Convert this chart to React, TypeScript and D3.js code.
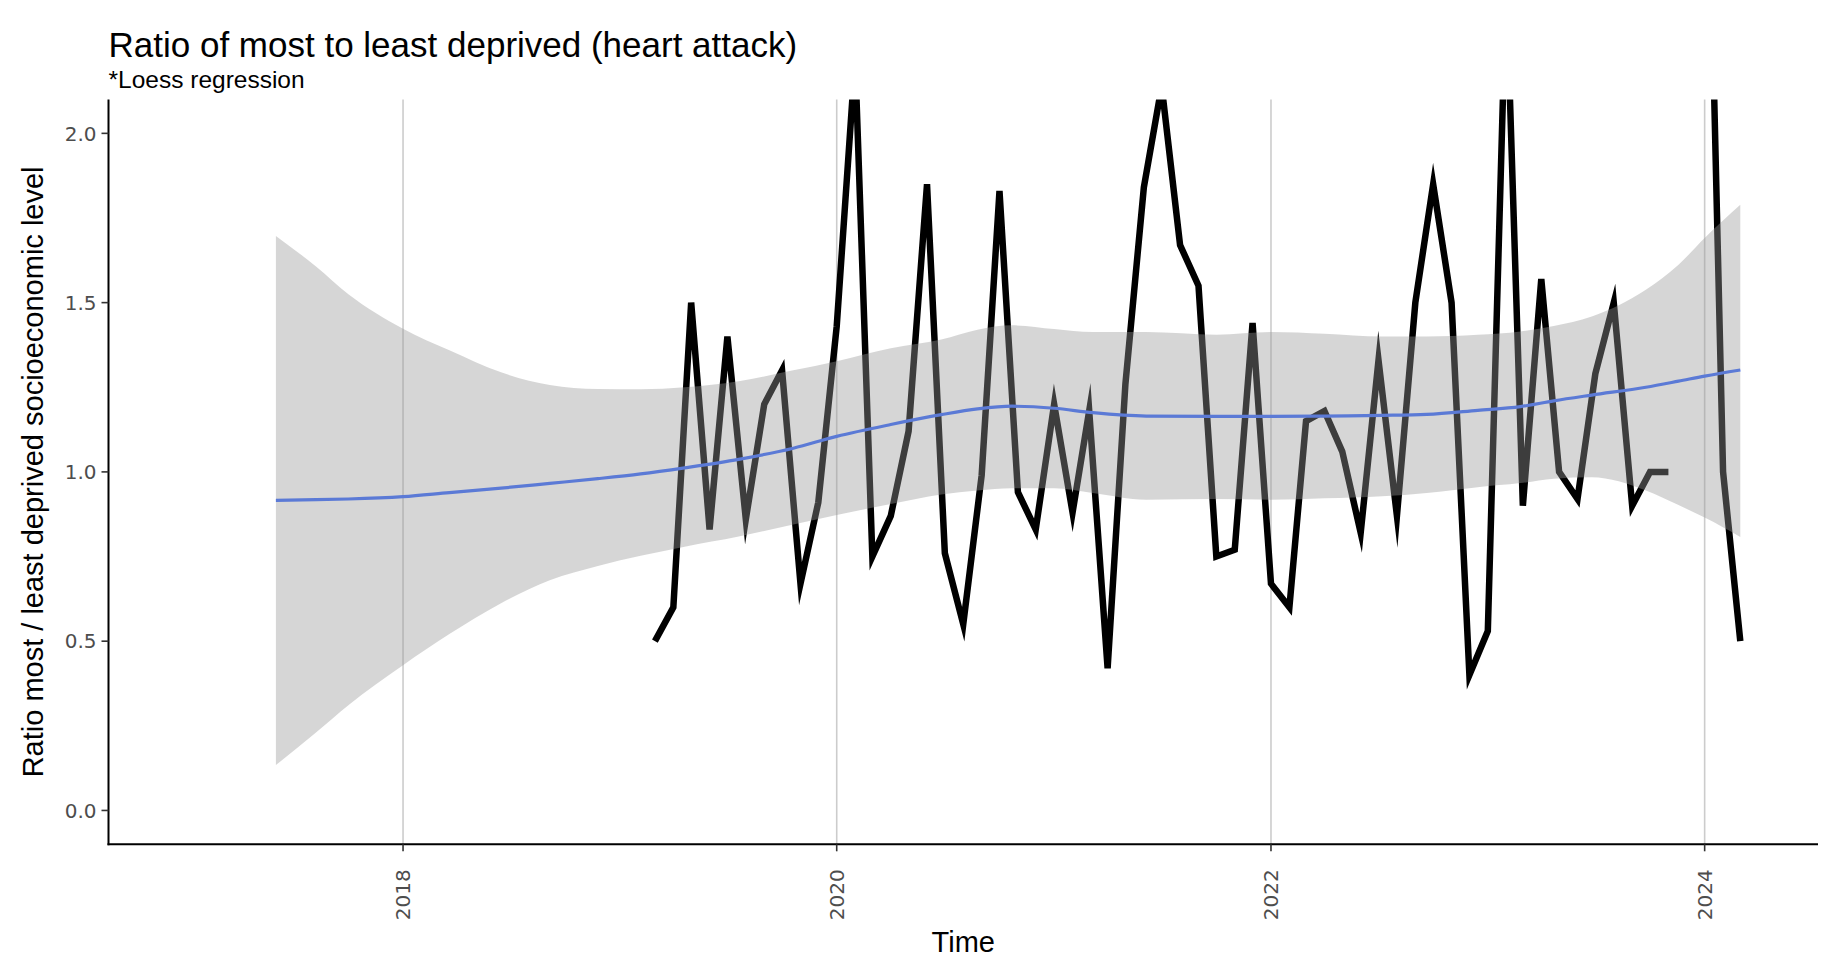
import React from 'react';
import * as d3 from 'd3';

// ---------- data ----------
const dataStart = '2017-01-01';
const dataEnd = '2024-03-01';

const ratioMonths = [
  '2019-03', '2019-04', '2019-05', '2019-06', '2019-07', '2019-08', '2019-09', '2019-10', '2019-11', '2019-12',
  '2020-01', '2020-02', '2020-03', '2020-04', '2020-05', '2020-06', '2020-07', '2020-08', '2020-09', '2020-10', '2020-11', '2020-12',
  '2021-01', '2021-02', '2021-03', '2021-04', '2021-05', '2021-06', '2021-07', '2021-08', '2021-09', '2021-10', '2021-11', '2021-12',
  '2022-01', '2022-02', '2022-03', '2022-04', '2022-05', '2022-06', '2022-07', '2022-08', '2022-09', '2022-10', '2022-11', '2022-12',
  '2023-01', '2023-02', '2023-03', '2023-04', '2023-05', '2023-06', '2023-07', '2023-08', '2023-09', '2023-10', '2023-11', '2023-12',
  '2024-01', '2024-02', '2024-03',
];
const ratioValues: (number | null)[] = [
  0.50, 0.60, 1.50, 0.83, 1.40, 0.86, 1.20, 1.30, 0.67, 0.91,
  1.43, 2.22, 0.75, 0.87, 1.12, 1.85, 0.76, 0.55, 0.99, 1.83, 0.94, 0.83,
  1.20, 0.88, 1.18, 0.42, 1.26, 1.84, 2.14, 1.67, 1.55, 0.75, 0.77, 1.44,
  0.67, 0.60, 1.15, 1.18, 1.06, 0.82, 1.33, 0.87, 1.50, 1.85, 1.50, 0.40,
  0.53, 2.45, 0.90, 1.57, 1.00, 0.92, 1.29, 1.50, 0.90, 1.00, 1.00, null,
  3.30, 1.00, 0.50,
];

const loessDates = [
  '2017-06-01', '2017-08-08', '2017-10-01', '2018-01-01', '2018-03-20', '2018-06-15', '2018-09-05', '2018-11-25',
  '2019-02-05', '2019-04-20', '2019-07-20', '2019-10-20', '2020-01-01', '2020-04-01', '2020-06-25', '2020-08-25',
  '2020-10-22', '2021-01-01', '2021-03-07', '2021-06-05', '2021-10-01', '2022-01-01', '2022-04-01', '2022-07-07',
  '2022-09-20', '2022-12-15', '2023-02-25', '2023-04-22', '2023-06-25', '2023-09-24', '2023-11-18', '2024-01-01',
  '2024-03-01',
];
const loessFit = [
  0.916, 0.918, 0.920, 0.927, 0.939, 0.952, 0.966, 0.980,
  0.994, 1.012, 1.037, 1.070, 1.105, 1.140, 1.169, 1.186,
  1.194, 1.188, 1.175, 1.165, 1.164, 1.164, 1.165, 1.167,
  1.170, 1.182, 1.193, 1.210, 1.227, 1.250, 1.268, 1.283,
  1.301,
];
const loessLower = [
  0.134, 0.231, 0.311, 0.429, 0.521, 0.612, 0.680, 0.722,
  0.752, 0.779, 0.809, 0.845, 0.873, 0.905, 0.933, 0.945,
  0.952, 0.952, 0.938, 0.918, 0.920, 0.918, 0.922, 0.928,
  0.938, 0.955, 0.967, 0.980, 0.984, 0.945, 0.902, 0.865,
  0.808,
];
const loessUpper = [
  1.697, 1.606, 1.525, 1.423, 1.359, 1.294, 1.257, 1.245,
  1.244, 1.250, 1.268, 1.300, 1.327, 1.365, 1.391, 1.420,
  1.433, 1.422, 1.413, 1.413, 1.405, 1.413, 1.408, 1.400,
  1.400, 1.405, 1.415, 1.431, 1.459, 1.538, 1.612, 1.691,
  1.789,
];

const yTicks = [0, 0.5, 1.0, 1.5, 2.0];
const yLimits = [0, 2];

const titleText = 'Ratio of most to least deprived (heart attack)';
const subtitleText = '*Loess regression';
const xTitle = 'Time';
const yTitle = 'Ratio most / least deprived socioeconomic level';

// ---------- layout ----------
const W = 1826;
const H = 966;
const P = { left: 108.5, right: 1818, top: 99.5, bottom: 844.3 };
const TICK_FONT = '"DejaVu Sans", sans-serif';
const TEXT_FONT = '"Liberation Sans", Arial, sans-serif';

export default function App() {
  const parseMonth = d3.timeParse('%Y-%m');
  const parseDay = d3.timeParse('%Y-%m-%d');

  const d0 = parseDay(dataStart) as Date;
  const d1 = parseDay(dataEnd) as Date;
  const span = d1.getTime() - d0.getTime();
  const x = d3
    .scaleTime()
    .domain([new Date(d0.getTime() - span * 0.05), new Date(d1.getTime() + span * 0.05)])
    .range([P.left, P.right]);

  const ySpan = yLimits[1] - yLimits[0];
  const y = d3
    .scaleLinear()
    .domain([yLimits[0] - ySpan * 0.05, yLimits[1] + ySpan * 0.05])
    .range([P.bottom, P.top]);

  const ratio = ratioMonths.map((m, i) => ({ date: parseMonth(m) as Date, v: ratioValues[i] }));
  const loess = loessDates.map((d, i) => ({
    date: parseDay(d) as Date,
    fit: loessFit[i],
    lo: loessLower[i],
    hi: loessUpper[i],
  }));

  const ratioLine = d3
    .line<{ date: Date; v: number | null }>()
    .defined((d) => d.v != null)
    .x((d) => x(d.date))
    .y((d) => y(d.v as number));

  const fitLine = d3
    .line<(typeof loess)[number]>()
    .curve(d3.curveMonotoneX)
    .x((d) => x(d.date))
    .y((d) => y(d.fit));

  const band = d3
    .area<(typeof loess)[number]>()
    .curve(d3.curveMonotoneX)
    .x((d) => x(d.date))
    .y0((d) => y(d.lo))
    .y1((d) => y(d.hi));

  const xTicks = x.ticks(d3.timeYear.every(2) as d3.TimeInterval);
  const fmtY = d3.format('.1f');
  const fmtX = d3.timeFormat('%Y');

  return (
    <svg
      width={W}
      height={H}
      style={{ position: 'absolute', left: 0, top: 0, display: 'block' }}
    >
      <defs>
        <clipPath id="panel">
          <rect x={P.left} y={P.top} width={P.right - P.left} height={P.bottom - P.top} />
        </clipPath>
      </defs>
      <rect x={0} y={0} width={W} height={H} fill="#ffffff" />

      {/* vertical grid */}
      {xTicks.map((t) => (
        <line
          key={'g' + +t}
          x1={x(t)}
          x2={x(t)}
          y1={P.top}
          y2={P.bottom}
          stroke="#cccccc"
          strokeWidth={1.6}
        />
      ))}

      <g clipPath="url(#panel)">
        <path
          d={ratioLine(ratio) || ''}
          fill="none"
          stroke="#000000"
          strokeWidth={6.5}
          strokeLinejoin="miter"
          strokeMiterlimit={10}
          strokeLinecap="butt"
        />
        <path d={fitLine(loess) || ''} fill="none" stroke="#3366ff" strokeWidth={3.2} />
        <path d={band(loess) || ''} fill="#999999" fillOpacity={0.4} stroke="none" />
      </g>

      {/* axes */}
      <line x1={P.left} x2={P.left} y1={P.top} y2={P.bottom + 1} stroke="#000" strokeWidth={2} />
      <line x1={P.left - 1} x2={P.right} y1={P.bottom} y2={P.bottom} stroke="#000" strokeWidth={2} />

      {yTicks.map((t) => (
        <g key={'y' + t}>
          <line x1={P.left - 7} x2={P.left} y1={y(t)} y2={y(t)} stroke="#333333" strokeWidth={1.6} />
          <text
            x={P.left - 12}
            y={y(t)}
            dy="0.36em"
            textAnchor="end"
            fontSize={20}
            fontFamily={TICK_FONT}
            fill="#4d4d4d"
          >
            {fmtY(t)}
          </text>
        </g>
      ))}

      {xTicks.map((t) => (
        <g key={'x' + +t}>
          <line x1={x(t)} x2={x(t)} y1={P.bottom} y2={P.bottom + 7} stroke="#333333" strokeWidth={1.6} />
          <text
            transform={`translate(${x(t)},${P.bottom + 25}) rotate(-90)`}
            dy="0.36em"
            textAnchor="end"
            fontSize={20}
            fontFamily={TICK_FONT}
            fill="#4d4d4d"
          >
            {fmtX(t)}
          </text>
        </g>
      ))}

      {/* titles */}
      <text x={P.left} y={56.7} fontSize={35} fontFamily={TEXT_FONT} fill="#000">
        {titleText}
      </text>
      <text x={P.left} y={88.3} fontSize={24.5} fontFamily={TEXT_FONT} fill="#000">
        {subtitleText}
      </text>
      <text
        x={(P.left + P.right) / 2}
        y={951.5}
        textAnchor="middle"
        fontSize={29}
        fontFamily={TEXT_FONT}
        fill="#000"
      >
        {xTitle}
      </text>
      <text
        transform={`translate(42.5,${(P.top + P.bottom) / 2}) rotate(-90)`}
        textAnchor="middle"
        fontSize={29}
        fontFamily={TEXT_FONT}
        fill="#000"
      >
        {yTitle}
      </text>
    </svg>
  );
}
